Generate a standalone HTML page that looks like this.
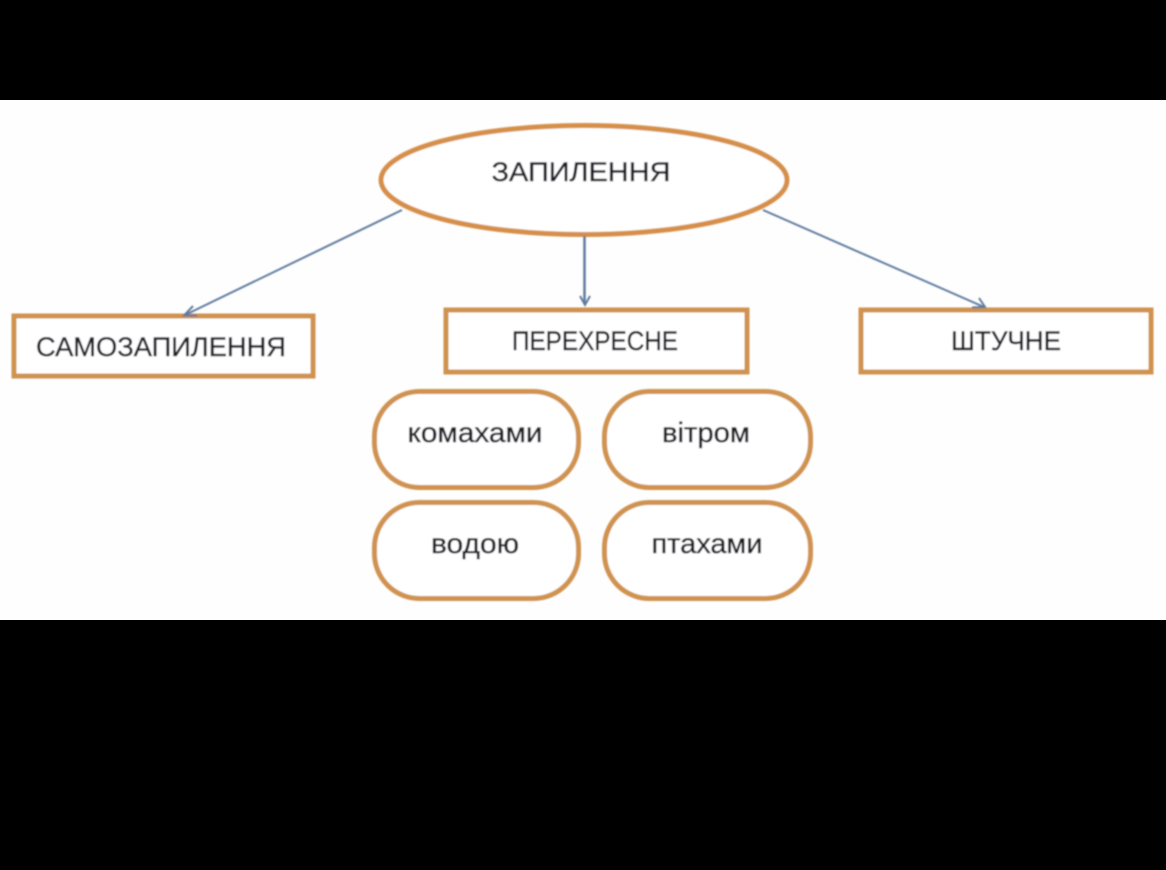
<!DOCTYPE html>
<html lang="uk">
<head>
<meta charset="utf-8">
<title>Запилення</title>
<style>
html,body{margin:0;padding:0;background:#000;}
body{width:1166px;height:870px;overflow:hidden;}
svg{display:block;}
text{font-family:"Liberation Sans","DejaVu Sans",sans-serif;fill:#1f1f26;stroke:#1f1f26;stroke-width:0.45px;text-anchor:middle;}
</style>
</head>
<body>
<svg width="1166" height="870" viewBox="0 0 1166 870" xmlns="http://www.w3.org/2000/svg">
<defs><filter id="b" x="-5%" y="-5%" width="110%" height="110%"><feGaussianBlur stdDeviation="0.8"/></filter></defs>
<rect x="0" y="0" width="1166" height="870" fill="#000"/>
<rect x="0" y="100" width="1166" height="520" fill="#fefefe"/>
<g filter="url(#b)">
<ellipse cx="584" cy="180" rx="203" ry="54.5" fill="#fff" stroke="#d68f4a" stroke-width="5"/>
<g fill="#fff" stroke="#d0924f" stroke-width="5">
<rect x="14" y="316" width="299" height="60"/>
<rect x="446" y="310" width="301" height="62"/>
<rect x="861" y="310" width="290" height="62"/>
<rect x="374.5" y="391.500" width="204" height="96" rx="45"/>
<rect x="604.500" y="391.500" width="206" height="96" rx="45"/>
<rect x="374.500" y="502.500" width="204" height="96" rx="45"/>
<rect x="604.500" y="502.500" width="206" height="96" rx="45"/>
</g>
<g fill="none" stroke="#5f7a9e" stroke-width="2">
<path d="M402 210L185 315"/><path d="M193 306L184 315.500L197 315.500"/>
<path d="M584.500 236V304" stroke-width="2.500"/><path d="M580 296L585 305L590 296"/>
<path d="M763 210L984 307"/><path d="M972 307.500L985 307L979 298"/>
</g>
<g font-size="27">
<text x="581" y="181" textLength="179" lengthAdjust="spacingAndGlyphs">ЗАПИЛЕННЯ</text>
<text x="161" y="356" textLength="250" lengthAdjust="spacingAndGlyphs">САМОЗАПИЛЕННЯ</text>
<text x="595" y="350" textLength="166" lengthAdjust="spacingAndGlyphs">ПЕРЕХРЕСНЕ</text>
<text x="1006" y="350" textLength="110" lengthAdjust="spacingAndGlyphs">ШТУЧНЕ</text>
<text x="475" y="442" font-size="28" textLength="135" lengthAdjust="spacingAndGlyphs">комахами</text>
<text x="706" y="442" font-size="28" textLength="88" lengthAdjust="spacingAndGlyphs">вітром</text>
<text x="475" y="553" font-size="28" textLength="88" lengthAdjust="spacingAndGlyphs">водою</text>
<text x="707" y="553" font-size="28" textLength="111" lengthAdjust="spacingAndGlyphs">птахами</text>
</g>
</g>
</svg>
</body>
</html>
